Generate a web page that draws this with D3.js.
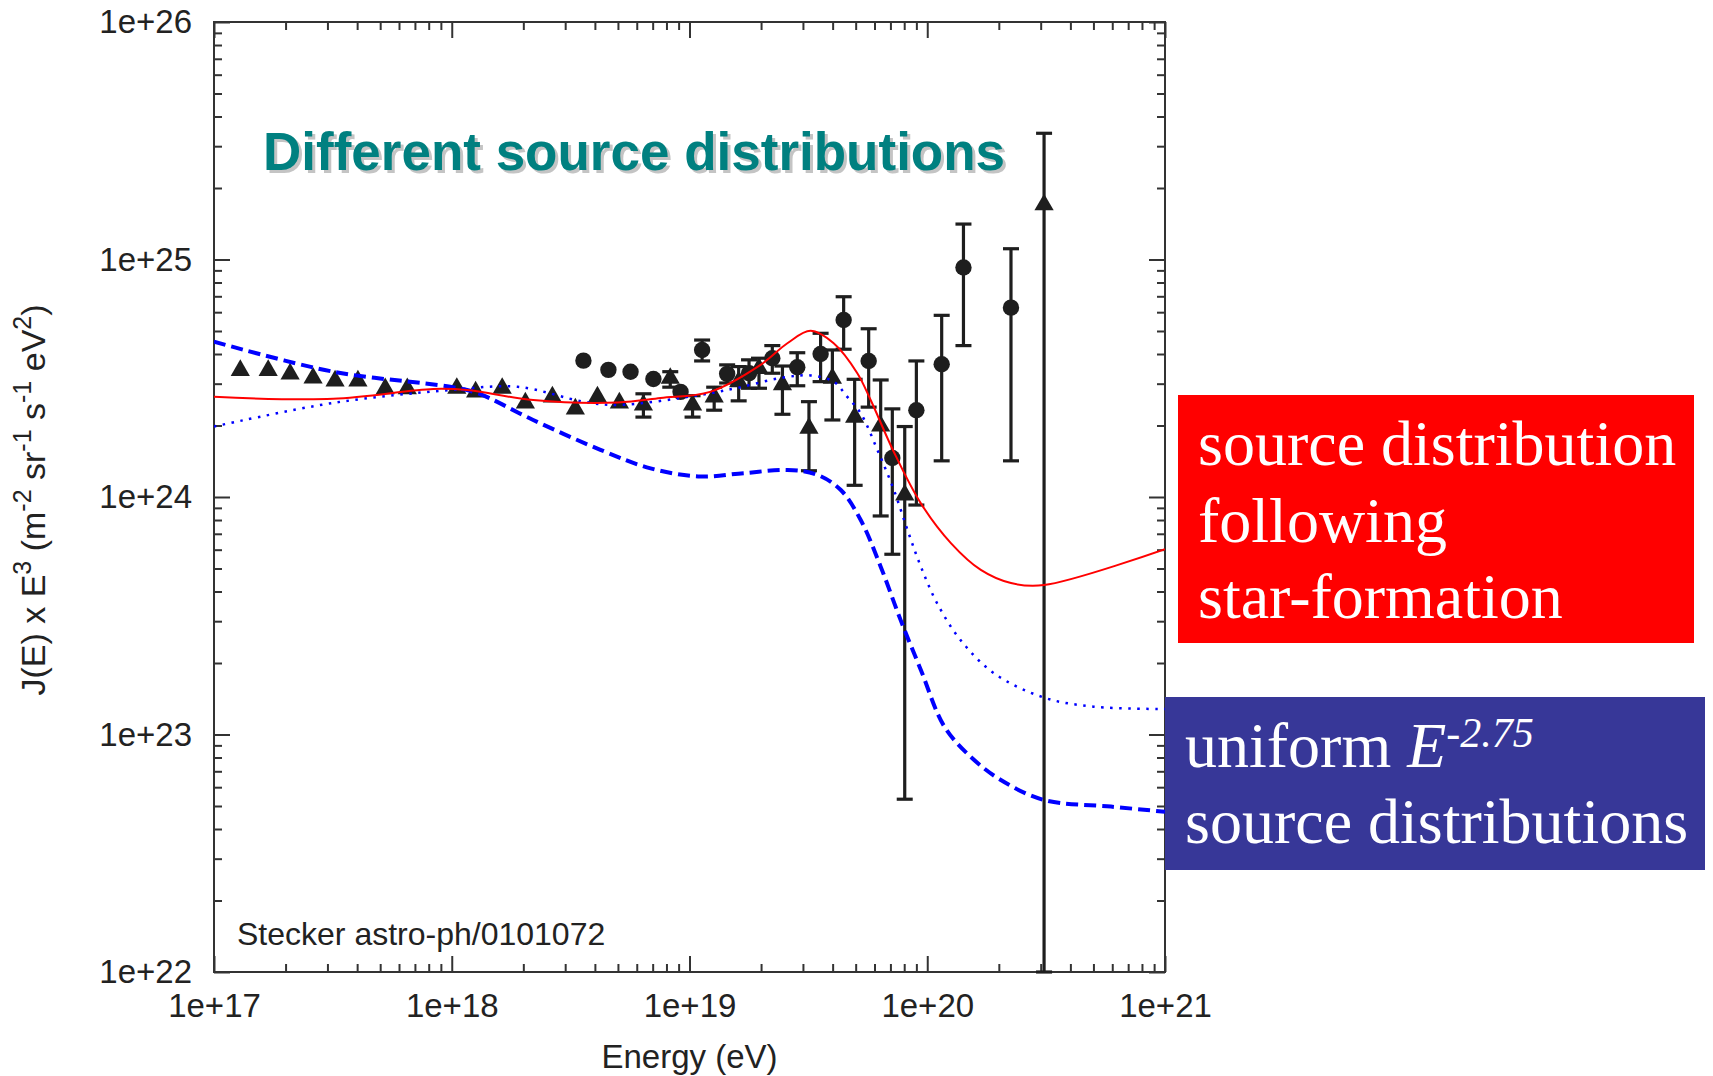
<!DOCTYPE html>
<html>
<head>
<meta charset="utf-8">
<script src="https://cdn.jsdelivr.net/npm/d3@7"></script>
<style>
  body { margin: 0; background: #fff; }
  svg { display: block; }
</style>
</head>
<body>
<div id="chart"></div>
<script>
// axis ticks
const energyTicks = [1e17, 1e18, 1e19, 1e20, 1e21];
const fluxTicks = [1e22, 1e23, 1e24, 1e25, 1e26];

// data set drawn with triangles (eV, J*E^3, lower, upper)
const triE  = [1.29e17, 1.69e17, 2.09e17, 2.61e17, 3.23e17, 4.03e17, 5.25e17, 6.50e17,
               1.05e18, 1.26e18, 1.63e18, 2.04e18, 2.65e18, 3.31e18, 4.10e18, 5.07e18,
               6.40e18, 8.30e18, 1.03e19, 1.27e19, 1.61e19, 1.96e19, 2.46e19, 3.18e19,
               3.99e19, 4.95e19, 6.37e19, 8.04e19, 3.10e20];
const triJ  = [3.41e24, 3.41e24, 3.30e24, 3.17e24, 3.08e24, 3.08e24, 2.86e24, 2.86e24,
               2.87e24, 2.77e24, 2.87e24, 2.49e24, 2.64e24, 2.35e24, 2.64e24, 2.49e24,
               2.44e24, 3.16e24, 2.44e24, 2.64e24, 3.06e24, 3.48e24, 2.97e24, 1.95e24,
               3.16e24, 2.17e24, 1.99e24, 1.02e24, 1.70e25];
const triLo = [null, null, null, null, null, null, null, null,
               null, null, null, null, null, null, null, null,
               2.17e24, 2.90e24, 2.17e24, 2.32e24, 2.54e24, 2.87e24, 2.23e24, 1.29e24,
               2.11e24, 1.12e24, 8.32e23, 5.34e22, 1e22];
const triHi = [null, null, null, null, null, null, null, null,
               null, null, null, null, null, null, null, null,
               2.72e24, 3.37e24, 2.67e24, 2.90e24, 3.54e24, 3.84e24, 3.56e24, 2.52e24,
               4.16e24, 3.13e24, 3.11e24, 1.98e24, 3.40e25];

// data set drawn with circles
const cirE  = [3.58e18, 4.56e18, 5.65e18, 7.05e18, 9.17e18, 1.13e19, 1.44e19, 1.78e19, 2.23e19,
               2.84e19, 3.56e19, 4.45e19, 5.67e19, 7.13e19, 9.00e19, 1.15e20, 1.42e20, 2.25e20];
const cirJ  = [3.75e24, 3.43e24, 3.37e24, 3.14e24, 2.77e24, 4.16e24, 3.30e24, 3.32e24, 3.84e24,
               3.52e24, 4.00e24, 5.56e24, 3.74e24, 1.46e24, 2.32e24, 3.62e24, 9.25e24, 6.27e24];
const cirLo = [null, null, null, null, null, 3.74e24, 3.02e24, 2.87e24, 3.32e24,
               2.94e24, 3.06e24, 4.19e24, 2.39e24, 5.74e23, 9.25e23, 1.42e24, 4.34e24, 1.42e24];
const cirHi = [null, null, null, null, null, 4.58e24, 3.60e24, 3.78e24, 4.34e24,
               4.05e24, 4.89e24, 6.97e24, 5.11e24, 2.35e24, 3.74e24, 5.82e24, 1.41e25, 1.11e25];

// model: source distribution following star formation (red solid)
const sfrE = [1e17, 3.17e17, 8.36e17, 1.16e18, 2.20e18, 4.98e18, 7.55e18, 1.22e19, 1.99e19,
              2.58e19, 3.23e19, 4.04e19, 5.08e19, 5.78e19, 7.23e19, 9.40e19, 1.26e20,
              1.68e20, 2.25e20, 3.10e20, 1e21];
const sfrJ = [2.64e24, 2.59e24, 2.85e24, 2.82e24, 2.56e24, 2.50e24, 2.61e24, 2.77e24, 3.60e24,
              4.44e24, 5.01e24, 4.44e24, 3.32e24, 2.56e24, 1.55e24, 9.40e23, 6.38e23,
              4.93e23, 4.34e23, 4.26e23, 6.03e23];

// model: uniform E^-2.75 (blue dotted)
const uniDotE = [1e17, 3.17e17, 9.86e17, 1.89e18, 3.58e18, 4.98e18, 1.11e19, 1.59e19, 2.42e19,
                 3.23e19, 4.04e19, 4.61e19, 5.25e19, 6.17e19, 7.24e19, 8.26e19, 9.40e19,
                 1.10e20, 1.38e20, 1.91e20, 3.10e20, 5.02e20, 1e21];
const uniDotJ = [1.98e24, 2.49e24, 2.82e24, 2.91e24, 2.52e24, 2.44e24, 2.69e24, 2.88e24, 3.17e24,
                 3.25e24, 3.06e24, 2.64e24, 2.25e24, 1.58e24, 1.07e24, 7.26e23, 5.09e23,
                 3.57e23, 2.50e23, 1.81e23, 1.43e23, 1.31e23, 1.28e23];

// model: uniform E^-2.75 (blue dashed)
const uniDashE = [1e17, 3.17e17, 9.86e17, 1.28e18, 2.20e18, 4.22e18, 6.86e18, 1.11e19, 1.69e19,
                  2.58e19, 3.45e19, 4.33e19, 5.25e19, 6.37e19, 7.73e19, 9.40e19, 1.18e20,
                  1.52e20, 2.04e20, 3.10e20, 5.93e20, 1e21];
const uniDashJ = [4.51e24, 3.37e24, 2.91e24, 2.74e24, 2.11e24, 1.58e24, 1.32e24, 1.22e24, 1.26e24,
                  1.30e24, 1.24e24, 1.07e24, 8.00e23, 5.09e23, 3.03e23, 1.87e23, 1.08e23,
                  8.07e22, 6.43e22, 5.30e22, 4.97e22, 4.73e22];

const W = 1713, H = 1076;
const margin = {left: 214, right: 548, top: 22, bottom: 104};
const iw = W - margin.left - margin.right;
const ih = H - margin.top - margin.bottom;

const svg = d3.select("#chart").append("svg")
    .attr("width", W)
    .attr("height", H);

const x = d3.scaleLog().domain([1e17, 1e21]).range([0, iw]);
const y = d3.scaleLog().domain([1e22, 1e26]).range([ih, 0]);

const g = svg.append("g").attr("transform", `translate(${margin.left},${margin.top})`);

g.append("clipPath").attr("id", "plotclip")
    .append("rect").attr("width", iw).attr("height", ih + 2);

const fmt = d => "1e+" + Math.round(Math.log10(d));
const xMinor = x.ticks().filter(d => !energyTicks.includes(d));
const yMinor = y.ticks().filter(d => !fluxTicks.includes(d));

const axisColor = "#333";
function styleAxis(sel) {
    sel.select(".domain").remove();
    sel.selectAll("line").attr("stroke", axisColor).attr("stroke-width", 2);
    sel.selectAll("text")
        .attr("fill", "#222")
        .style("font-family", "'Liberation Sans', Arial, sans-serif")
        .style("font-size", "33px");
}

// major ticks with labels
g.append("g").attr("transform", `translate(0,${ih})`)
    .call(d3.axisBottom(x).tickValues(energyTicks).tickSize(-16).tickPadding(22).tickFormat(fmt))
    .call(styleAxis);
g.append("g")
    .call(d3.axisLeft(y).tickValues(fluxTicks).tickSize(-16).tickPadding(22).tickFormat(fmt))
    .call(styleAxis);
// mirrored majors
g.append("g")
    .call(d3.axisTop(x).tickValues(energyTicks).tickSize(-16).tickFormat(""))
    .call(styleAxis);
g.append("g").attr("transform", `translate(${iw},0)`)
    .call(d3.axisRight(y).tickValues(fluxTicks).tickSize(-16).tickFormat(""))
    .call(styleAxis);
// minor ticks
g.append("g").attr("transform", `translate(0,${ih})`)
    .call(d3.axisBottom(x).tickValues(xMinor).tickSize(-8).tickFormat(""))
    .call(styleAxis);
g.append("g")
    .call(d3.axisTop(x).tickValues(xMinor).tickSize(-8).tickFormat(""))
    .call(styleAxis);
g.append("g")
    .call(d3.axisLeft(y).tickValues(yMinor).tickSize(-8).tickFormat(""))
    .call(styleAxis);
g.append("g").attr("transform", `translate(${iw},0)`)
    .call(d3.axisRight(y).tickValues(yMinor).tickSize(-8).tickFormat(""))
    .call(styleAxis);

g.append("rect")
    .attr("width", iw).attr("height", ih)
    .attr("fill", "none").attr("stroke", axisColor).attr("stroke-width", 2);

// axis titles
g.append("text")
    .attr("x", iw / 2).attr("y", ih + 96)
    .attr("text-anchor", "middle")
    .attr("fill", "#222")
    .style("font-family", "'Liberation Sans', Arial, sans-serif")
    .style("font-size", "33px")
    .text("Energy (eV)");

const ylab = svg.append("text")
    .attr("transform", `translate(45,${margin.top + ih / 2 + 3}) rotate(-90)`)
    .attr("text-anchor", "middle")
    .attr("fill", "#222")
    .style("font-family", "'Liberation Sans', Arial, sans-serif")
    .style("font-size", "34px");
const ylabParts = [["J(E) x E", 0], ["3", 1], [" (m", 0], ["-2", 1], [" sr", 0], ["-1", 1],
                   [" s", 0], ["-1", 1], [" eV", 0], ["2", 1], [")", 0]];
let prevSup = 0;
ylabParts.forEach(([t, sup]) => {
    const shift = sup && !prevSup ? -14 : (!sup && prevSup ? 14 : 0);
    ylab.append("tspan")
        .attr("dy", shift)
        .style("font-size", sup ? "25px" : "34px")
        .text(t);
    prevSup = sup;
});

// data points
const plot = g.append("g").attr("clip-path", "url(#plotclip)");
const ink = "#1e1e1e";

function errorBars(E, J, lo, hi) {
    const rows = E.map((e, i) => ({e, lo: lo[i], hi: hi[i]})).filter(d => d.lo !== null);
    const eb = plot.append("g").attr("stroke", ink).attr("stroke-width", 3.2);
    eb.selectAll(".bar").data(rows).join("line")
        .attr("x1", d => x(d.e)).attr("x2", d => x(d.e))
        .attr("y1", d => y(d.lo)).attr("y2", d => y(d.hi));
    eb.selectAll(".caplo").data(rows).join("line")
        .attr("x1", d => x(d.e) - 8).attr("x2", d => x(d.e) + 8)
        .attr("y1", d => y(d.lo)).attr("y2", d => y(d.lo));
    eb.selectAll(".caphi").data(rows).join("line")
        .attr("x1", d => x(d.e) - 8).attr("x2", d => x(d.e) + 8)
        .attr("y1", d => y(d.hi)).attr("y2", d => y(d.hi));
}
errorBars(triE, triJ, triLo, triHi);
errorBars(cirE, cirJ, cirLo, cirHi);

const tri = d3.symbol(d3.symbolTriangle).size(160);
plot.append("g").selectAll("path")
    .data(triE.map((e, i) => [e, triJ[i]]))
    .join("path")
    .attr("d", tri)
    .attr("transform", d => `translate(${x(d[0])},${y(d[1])})`)
    .attr("fill", ink);

plot.append("g").selectAll("circle")
    .data(cirE.map((e, i) => [e, cirJ[i]]))
    .join("circle")
    .attr("cx", d => x(d[0])).attr("cy", d => y(d[1]))
    .attr("r", 8.2)
    .attr("fill", ink);

// model curves
const line = d3.line().x(d => x(d[0])).y(d => y(d[1])).curve(d3.curveCatmullRom.alpha(0.5));

plot.append("path")
    .datum(uniDashE.map((e, i) => [e, uniDashJ[i]]))
    .attr("d", line)
    .attr("fill", "none").attr("stroke", "#0000ff")
    .attr("stroke-width", 4).attr("stroke-dasharray", "12,6");

plot.append("path")
    .datum(uniDotE.map((e, i) => [e, uniDotJ[i]]))
    .attr("d", line)
    .attr("fill", "none").attr("stroke", "#0000ff")
    .attr("stroke-width", 2.5).attr("stroke-dasharray", "2.5,6.5");

plot.append("path")
    .datum(sfrE.map((e, i) => [e, sfrJ[i]]))
    .attr("d", line)
    .attr("fill", "none").attr("stroke", "#ff0000")
    .attr("stroke-width", 2);

// annotations inside plot
const title = "Different source distributions";
[["#c4c4c4", 3], ["#008080", 0]].forEach(([c, off]) => {
    svg.append("text")
        .attr("x", 263 + off).attr("y", 170 + off)
        .attr("fill", c)
        .style("font-family", "'Liberation Sans', Arial, sans-serif")
        .style("font-weight", "bold")
        .style("font-size", "53px")
        .text(title);
});

svg.append("text")
    .attr("x", 237).attr("y", 945)
    .attr("fill", "#222")
    .style("font-family", "'Liberation Sans', Arial, sans-serif")
    .style("font-size", "32px")
    .text("Stecker astro-ph/0101072");

// legend boxes
const serif = "'Liberation Serif', 'Times New Roman', serif";
svg.append("rect").attr("x", 1178).attr("y", 395).attr("width", 516).attr("height", 248)
    .attr("fill", "#ff0000");
["source distribution", "following", "star-formation"].forEach((t, i) => {
    svg.append("text")
        .attr("x", 1198).attr("y", 465 + i * 76.5)
        .attr("fill", "#fff")
        .style("font-family", serif)
        .style("font-size", "64px")
        .text(t);
});

svg.append("rect").attr("x", 1165).attr("y", 697).attr("width", 540).attr("height", 173)
    .attr("fill", "#373798");
const l1 = svg.append("text")
    .attr("x", 1185).attr("y", 767)
    .attr("fill", "#fff")
    .style("font-family", serif)
    .style("font-size", "64px");
l1.append("tspan").text("uniform ");
l1.append("tspan").style("font-style", "italic").text("E");
l1.append("tspan").attr("dy", -20).style("font-style", "italic").style("font-size", "42px").text("-2.75");
svg.append("text")
    .attr("x", 1185).attr("y", 843)
    .attr("fill", "#fff")
    .style("font-family", serif)
    .style("font-size", "64px")
    .text("source distributions");
</script>
</body>
</html>
